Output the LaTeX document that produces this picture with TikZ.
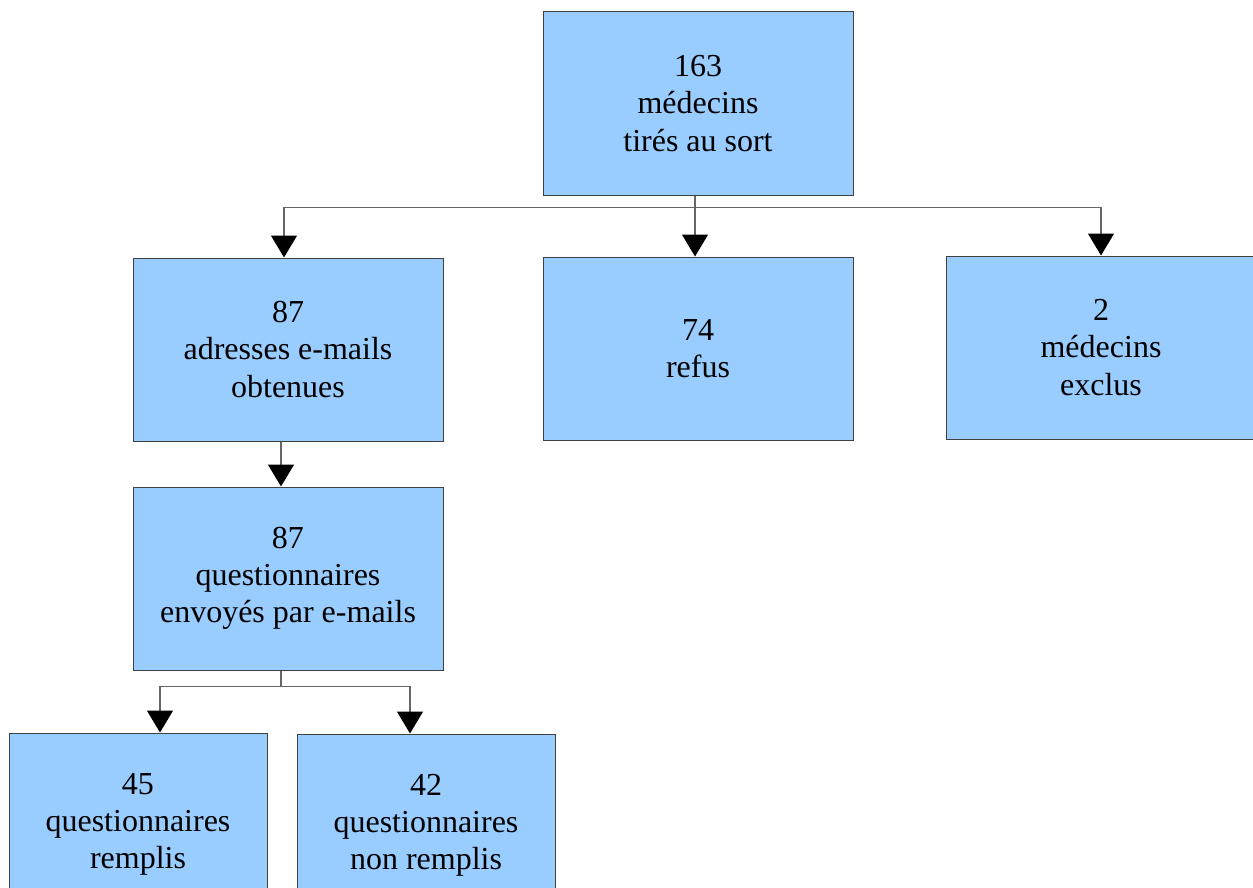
\documentclass[tikz,border=0pt]{standalone}
\usepackage{fontspec}
\setmainfont{Liberation Serif}
\usetikzlibrary{arrows.meta}

\definecolor{boxblue}{HTML}{99CCFF}
\tikzset{
	box/.style={draw=black!75, fill=boxblue, line width=0.5pt, inner sep=0pt,
		minimum width=155pt, minimum height=91.5pt, align=center,
		font=\fontsize{16}{18.6}\selectfont},
	smallbox/.style={box, minimum width=129pt},
	conn/.style={draw=black!60, line width=0.6pt,
		-{Triangle[width=13pt,length=11pt,color=black,fill=black]}}
}

\begin{document}
\begin{tikzpicture}[x=0.5pt, y=-0.5pt]
	\useasboundingbox (0,0) rectangle (1253,888);
	\clip (0,0) rectangle (1253,888);

	\node[box] (tirage) at (698,103.5) {163\\médecins\\tirés au sort};

	\node[box] (adresses) at (288,349.5) {87\\adresses e-mails\\obtenues};
	\node[box] (refus) at (698,348.5) {74\\refus};
	\node[box] (exclus) at (1101,347.5) {2\\médecins\\exclus};

	\node[box] (envoi) at (288,578.5) {87\\questionnaires\\envoyés par e-mails};

	\node[smallbox] (remplis) at (138,824.5) {45\\questionnaires\\remplis};
	\node[smallbox] (nonremplis) at (426,825.5) {42\\questionnaires\\non remplis};

	\draw[conn] ([xshift=-1.5pt]tirage.south) -- ++(0,12) -| ([xshift=-2pt]adresses.north);
	\draw[conn] ([xshift=-1.5pt]tirage.south) -- ([xshift=-1.5pt]refus.north);
	\draw[conn] ([xshift=-1.5pt]tirage.south) -- ++(0,12) -| (exclus.north);

	\draw[conn] ([xshift=-3.5pt]adresses.south) -- ([xshift=-3.5pt]envoi.north);

	\draw[conn] ([xshift=-3.5pt]envoi.south) -- ++(0,16) -| ([xshift=11pt]remplis.north);
	\draw[conn] ([xshift=-3.5pt]envoi.south) -- ++(0,16) -| ([xshift=-8pt]nonremplis.north);
\end{tikzpicture}
\end{document}
